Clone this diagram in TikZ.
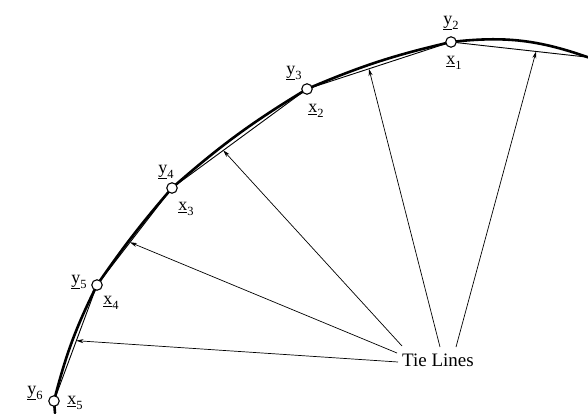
\documentclass[tikz,border=0pt]{standalone}
\usepackage{fontspec}
\setmainfont{Liberation Serif}
\usetikzlibrary{arrows.meta,calc}
\newcommand\vecl[2]{$\underline{\hbox{#1}}$\raisebox{-0.3em}{\fontsize{12.5}{12.5}\selectfont #2}}
\tikzset{
  curve/.style={line width=2.6pt,line cap=round},
  chord/.style={line width=0.9pt},
  pt/.style={circle,draw,line width=1.1pt,fill=white,minimum size=10.5pt,inner sep=0pt},
  lab/.style={font=\fontsize{18}{18}\selectfont,inner sep=0pt},
  tie/.style={line width=0.7pt,-{Stealth[length=7pt,width=4pt]}}
}
\begin{document}
\begin{tikzpicture}[x=1pt,y=1pt]
\useasboundingbox (0,0) rectangle (588,413);
\coordinate (B) at (55,0);
\coordinate (P5) at (54,12);
\coordinate (P4) at (97,128);
\coordinate (P3) at (172,225);
\coordinate (P2) at (307,324);
\coordinate (P1) at (451,371);
\coordinate (E) at (590,355);
\coordinate (C) at (586,356);
% thick equilibrium curve
\draw[curve] (B) -- (P5) to[bend left=6] (P4) to[bend left=3] (P3) to[bend left=5] (P2) to[bend left=5] (P1) to[bend left=13] (E);
% chords
\draw[chord] (P5) -- (P4) -- (P3) -- (P2) -- (P1) -- (C);
% points
\foreach \p in {P1,P2,P3,P4,P5} \node[pt] (n\p) at (\p) {};
% labels
\node[lab] (ly2) at (451,390) {\vecl{y}{2}};
\node[lab] (lx1) at (454,350) {\vecl{x}{1}};
\node[lab] (ly3) at (294,340) {\vecl{y}{3}};
\node[lab] (lx2) at (316,302) {\vecl{x}{2}};
\node[lab] (ly4) at (166,241) {\vecl{y}{4}};
\node[lab] (lx3) at (186,204) {\vecl{x}{3}};
\node[lab] (ly5) at (79,131) {\vecl{y}{5}};
\node[lab] (lx4) at (111,110) {\vecl{x}{4}};
\node[lab] (ly6) at (35,20) {\vecl{y}{6}};
\node[lab] (lx5) at (75,10) {\vecl{x}{5}};
% tie lines label
\node[anchor=west,inner sep=0pt,font=\fontsize{19}{19}\selectfont] (tl) at (402,53) {Tie Lines};
\coordinate (s1) at (398,51);
\coordinate (s2) at (397,60);
\coordinate (s3) at (402,67);
\coordinate (s4) at (440,66);
\coordinate (s5) at (456,66);
\coordinate (t1) at ($(P5)!0.52!(P4)$);
\coordinate (t2) at ($(P4)!0.44!(P3)$);
\coordinate (t3) at ($(P3)!0.38!(P2)$);
\coordinate (t4) at ($(P2)!0.43!(P1)$);
\coordinate (t5) at ($(P1)!0.63!(C)$);
\draw[tie] (s1) -- (t1);
\draw[tie] (s2) -- (t2);
\draw[tie] (s3) -- (t3);
\draw[tie] (s4) -- (t4);
\draw[tie] (s5) -- (t5);
\end{tikzpicture}
\end{document}
